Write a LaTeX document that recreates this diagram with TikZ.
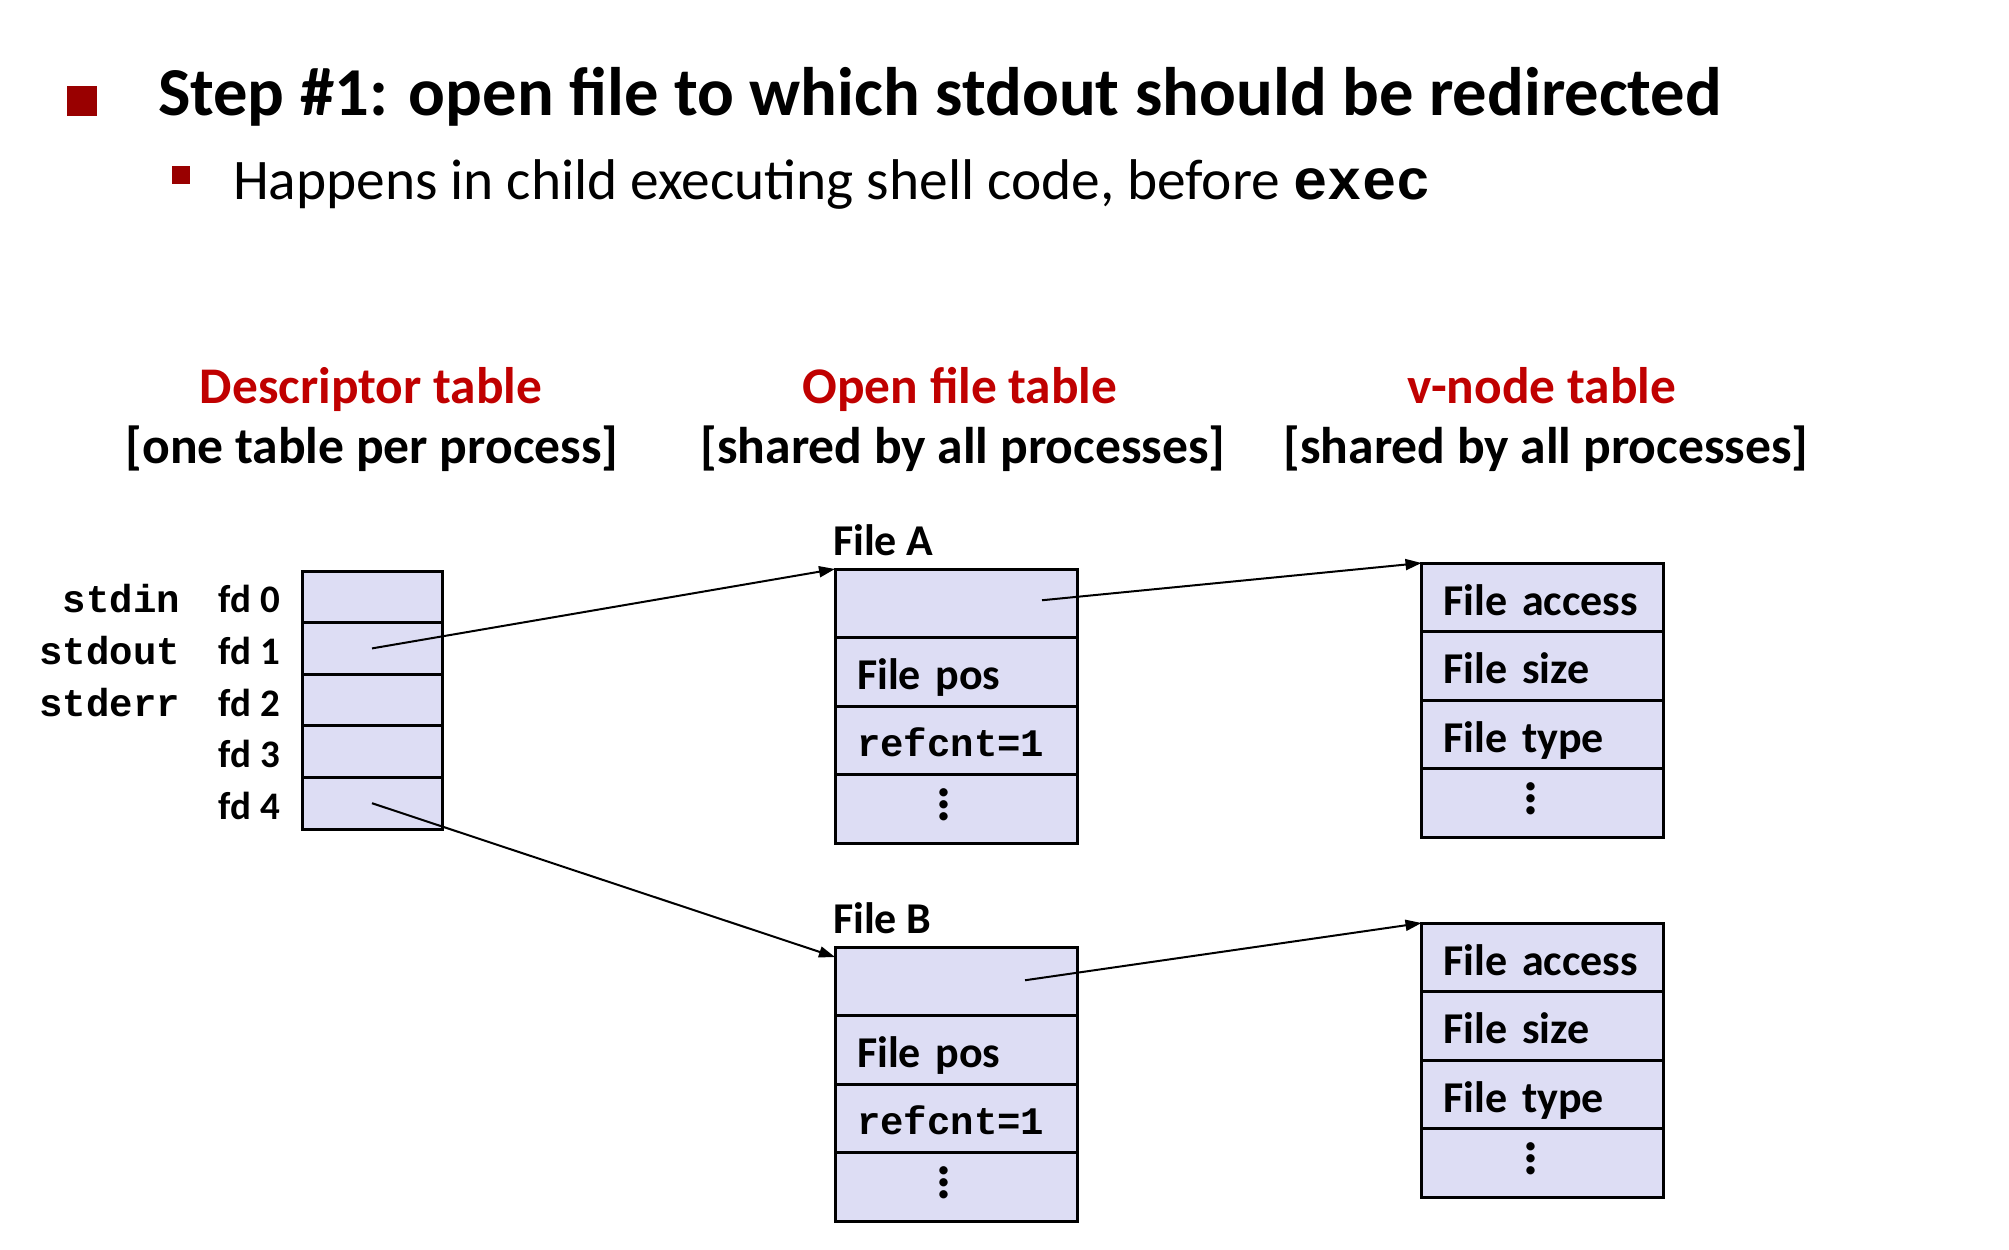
\documentclass[tikz,border=0pt]{standalone}
\usepackage{fontspec}
\setmainfont{Carlito}
\setmonofont{Liberation Mono}
\usetikzlibrary{positioning, arrows.meta, calc}
\definecolor{myred}{RGB}{192, 0, 0}
\definecolor{bulletred}{RGB}{153, 0, 0}
\definecolor{cellfill}{RGB}{221, 221, 244}
\newcommand{\celldots}{\kern-12pt\vbox{\baselineskip=6pt\lineskiplimit=-10pt\hbox{.}\hbox{.}\hbox{.}}}

\begin{document}
\begin{tikzpicture}[
   x=0.5pt, y=-0.5pt,
   every node/.style   = {inner sep=0pt, outer sep=0pt},
   node distance       = 0pt,
      cell/.style      = {rectangle, draw, fill=cellfill, line width=1.5pt},
      fdCell/.style    = {cell, minimum width=70pt, minimum height=25.8pt},
      fileCell/.style  = {cell, minimum width=121pt, minimum height=34.25pt, text width=99pt, align=left,
                          text height=19pt, text depth=1pt, font=\fontsize{22}{26}\selectfont\bfseries},
      codeCell/.style  = {fileCell, text height=17.5pt, text depth=1.5pt, font=\fontsize{19.5}{23}\selectfont\ttfamily\bfseries},
      dotCell/.style   = {cell, minimum width=121pt, minimum height=34.25pt, text depth=4pt, font=\fontsize{28}{30}\selectfont\bfseries},
      fdLabel/.style   = {text height=16pt, text depth=0pt, font=\fontsize{19.5}{23}\selectfont\bfseries},
      stdLabel/.style  = {font=\fontsize{19.5}{23}\selectfont\ttfamily\bfseries},
      headRed/.style   = {anchor=base, text=myred, font=\fontsize{25.7}{31}\selectfont\bfseries},
      headBlack/.style = {anchor=base, font=\fontsize{25.8}{31}\selectfont\bfseries},
      fileHead/.style  = {anchor=base west, font=\fontsize{22}{26}\selectfont\bfseries},
      myarrow/.style   = {line width=1pt, -{Triangle[length=8pt, width=5.5pt]}}
]
    \useasboundingbox (0,0) rectangle (2009,1249);

    % slide title
    \node[fill=bulletred, minimum size=15pt] (bullet) at (82,101) {};
    \node[anchor=base west, font=\fontsize{34.3}{41}\selectfont\bfseries] (title) at (158,115)
        {Step \#1: open file to which stdout should be redirected};
    \node[fill=bulletred, minimum size=9pt] (subbullet) at (180.5,175) {};
    \node[anchor=base west, font=\fontsize{28.7}{34}\selectfont] (subtitle) at (233,199)
        {Happens in child executing shell code, before \texttt{\bfseries exec}};

    % column heads
    \node[headRed]   (deschead) at (371,403) {Descriptor table};
    \node[headBlack] (descsub)  at (372,463) {[one table per process]};
    \node[headRed]   (openhead) at (960,403) {Open file table};
    \node[headBlack] (opensub)  at (963,463) {[shared by all processes]};
    \node[headRed]   (vnodehead) at (1542,403) {v-node table};
    \node[headBlack] (vnodesub)  at (1546,463) {[shared by all processes]};

    % descriptor table
    \node[fdCell, anchor=north] (fd0) at (372,571) {};
    \node[fdCell, below=of fd0] (fd1) {};
    \node[fdCell, below=of fd1] (fd2) {};
    \node[fdCell, below=of fd2] (fd3) {};
    \node[fdCell, below=of fd3] (fd4) {};

    \node[fdLabel, left=11pt of fd0] (lab0) {fd 0};
    \node[fdLabel, left=11pt of fd1] (lab1) {fd 1};
    \node[fdLabel, left=11pt of fd2] (lab2) {fd 2};
    \node[fdLabel, left=11pt of fd3] (lab3) {fd 3};
    \node[fdLabel, left=11pt of fd4] (lab4) {fd 4};

    \node[stdLabel, base left=19.5pt of lab0] (stdin)  {stdin};
    \node[stdLabel, base left=19.5pt of lab1] (stdout) {stdout};
    \node[stdLabel, base left=19.5pt of lab2] (stderr) {stderr};

    % open file table
    \node[fileHead] (fileAhead) at (833,555) {File A};
    \node[fileCell, anchor=north] (fileA) at (956,569) {};
    \node[fileCell, below=of fileA]    (fileApos)  {File pos};
    \node[codeCell, below=of fileApos] (fileAref)  {refcnt=1};
    \node[dotCell,  below=of fileAref] (fileAdots) {\celldots};

    \node[fileHead] (fileBhead) at (833,933) {File B};
    \node[fileCell, anchor=north] (fileB) at (956,947) {};
    \node[fileCell, below=of fileB]    (fileBpos)  {File pos};
    \node[codeCell, below=of fileBpos] (fileBref)  {refcnt=1};
    \node[dotCell,  below=of fileBref] (fileBdots) {\celldots};

    % v-node table
    \node[fileCell, anchor=north] (vnodeA) at (1542.5,563) {File access};
    \node[fileCell, below=of vnodeA]     (vnodeAsize) {File size};
    \node[fileCell, below=of vnodeAsize] (vnodeAtype) {File type};
    \node[dotCell,  below=of vnodeAtype] (vnodeAdots) {\celldots};

    \node[fileCell, anchor=north] (vnodeB) at (1542.5,923) {File access};
    \node[fileCell, below=of vnodeB]     (vnodeBsize) {File size};
    \node[fileCell, below=of vnodeBsize] (vnodeBtype) {File type};
    \node[dotCell,  below=of vnodeBtype] (vnodeBdots) {\celldots};

    % pointers
    \coordinate (ptrA) at ($(fileA.east)+(-35,-3)$);
    \coordinate (ptrB) at ($(fileB.east)+(-52,-1)$);

    \draw[myarrow] (fd1.center) -- (fileA.north west);
    \draw[myarrow] (fd4.center) -- ($(fileB.north west)+(0,10)$);
    \draw[myarrow] (ptrA) -- (vnodeA.north west);
    \draw[myarrow] (ptrB) -- (vnodeB.north west);
\end{tikzpicture}
\end{document}
